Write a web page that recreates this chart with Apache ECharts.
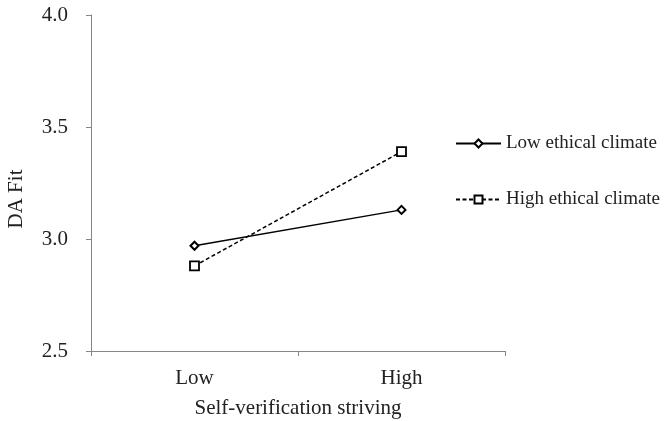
<!DOCTYPE html>
<html>
<head>
<meta charset="utf-8">
<script src="https://cdn.jsdelivr.net/npm/echarts@6/dist/echarts.min.js"></script>
<style>html,body{margin:0;padding:0;background:#fff;}#c{width:666px;height:421px;}</style>
</head>
<body>
<div id="c"></div>
<script>
var categories = ['Low', 'High'];
var lowEthical = [2.97, 3.13];
var highEthical = [2.88, 3.39];
var seriesNames = ['Low ethical climate', 'High ethical climate'];
var xAxisTitle = 'Self-verification striving';
var yAxisTitle = 'DA Fit';

var font = '"Liberation Serif", "Times New Roman", serif';
var chart = echarts.init(document.getElementById('c'), null, {renderer: 'canvas'});
chart.setOption({
  animation: false,
  backgroundColor: '#fff',
  textStyle: {fontFamily: font},
  grid: {left: 91, right: 161, top: 15, bottom: 70, containLabel: false, outerBoundsMode: 'none'},
  graphic: [{
    type: 'text',
    rotation: Math.PI / 2,
    style: {text: yAxisTitle, font: '21px ' + font, fill: '#222',
      textAlign: 'center', textVerticalAlign: 'middle'},
    x: 16, y: 199
  }],
  legend: {
    orient: 'vertical',
    left: 450,
    top: 129,
    itemGap: 37,
    itemWidth: 45,
    itemHeight: 10,
    textStyle: {fontFamily: font, fontSize: 19, color: '#222'},
    data: seriesNames
  },
  xAxis: {
    type: 'category',
    data: categories,
    boundaryGap: true,
    name: xAxisTitle,
    nameLocation: 'middle',
    nameGap: 47,
    nameTextStyle: {fontFamily: font, fontSize: 21, color: '#222'},
    axisLine: {lineStyle: {color: '#868686', width: 1}},
    axisTick: {show: true, length: 5, lineStyle: {color: '#868686'}},
    axisLabel: {fontFamily: font, fontSize: 21, color: '#222', margin: 17}
  },
  yAxis: {
    type: 'value',
    min: 2.5,
    max: 4.0,
    interval: 0.5,
    axisLine: {show: true, lineStyle: {color: '#868686', width: 1}},
    axisTick: {show: true, length: 5, lineStyle: {color: '#868686'}},
    splitLine: {show: false},
    axisLabel: {fontFamily: font, fontSize: 21, color: '#222', margin: 23,
      formatter: function (v) { return v.toFixed(1); }}
  },
  series: [
    {
      name: seriesNames[0],
      type: 'line',
      data: lowEthical,
      symbol: 'diamond',
      symbolSize: 8,
      showAllSymbol: true,
      lineStyle: {color: '#000', width: 1.5, type: 'solid'},
      itemStyle: {color: '#fff', borderColor: '#000', borderWidth: 2}
    },
    {
      name: seriesNames[1],
      type: 'line',
      data: highEthical,
      symbol: 'rect',
      symbolSize: 9,
      showAllSymbol: true,
      lineStyle: {color: '#000', width: 1.5, type: [4, 2.5]},
      itemStyle: {color: '#fff', borderColor: '#000', borderWidth: 1.8}
    }
  ]
});
</script>
</body>
</html>
